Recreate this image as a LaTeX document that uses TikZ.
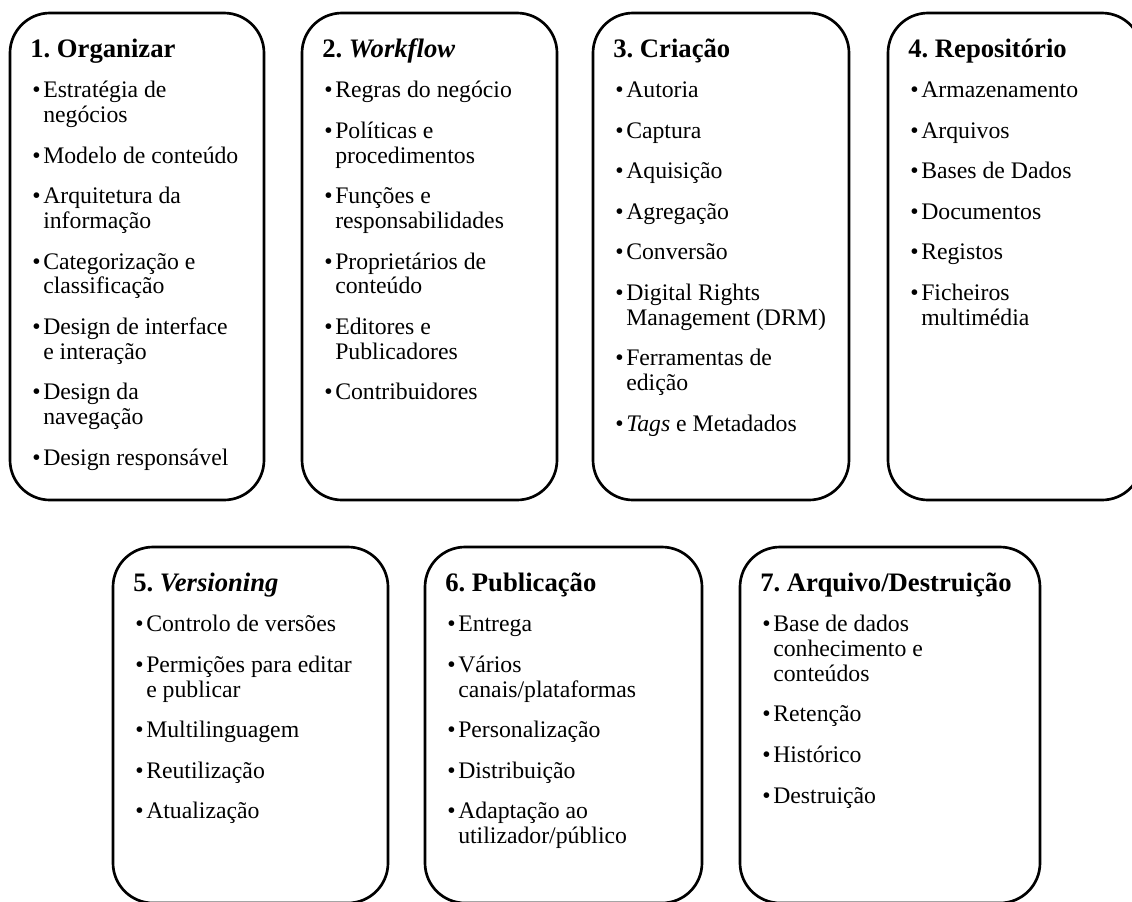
\documentclass[tikz,border=0pt]{standalone}
\usepackage{fontspec}
\setmainfont{Liberation Serif}

% word spaces of fixed width, no extra space after full stops
\newcommand\fixspaces{\frenchspacing\spaceskip=\fontdimen2\font\relax}
% one bulleted entry with a hanging indent for its continuation lines
\newcommand\bitem[1]{\par\hangindent=9.75pt\hangafter=1\noindent\makebox[9.75pt][l]{\hspace{1.5pt}•}#1\par}
% bold heading of a panel; the space between entries is set after it
\newcommand\btitle[1]{{\fontsize{20pt}{18.6pt}\selectfont\bfseries\fixspaces\noindent\rule{0pt}{15pt}#1\par}\setlength{\parskip}{11.8pt}}

\tikzset{
  panel/.style={draw, line width=2pt, rounded corners=30pt},
  paneltext/.style={anchor=north west, inner sep=0pt, text width=220pt, align=left,
    font=\fontsize{17.8pt}{18.6pt}\selectfont,
    execute at begin node={\fixspaces\rightskip=0pt plus 1fil\parfillskip=0pt plus 1fil\relax}}
}

\begin{document}
\begin{tikzpicture}[x=0.75pt, y=-0.75pt]
\useasboundingbox (0,0) rectangle (1132,901);

% upper row of panels
\draw[panel] (10,13) rectangle (264,500);
\draw[panel] (302,13) rectangle (557,500);
\draw[panel] (593,13) rectangle (849,500);
\draw[panel] (888,13) rectangle (1142,500);

% lower row of panels
\draw[panel] (113,547) rectangle (388,903);
\draw[panel] (425,547) rectangle (702,903);
\draw[panel] (740,547) rectangle (1040,903);

\node[paneltext] (t1) at (30,37) {%
  \btitle{1. Organizar}
  \bitem{Estratégia de\newline negócios}
  \bitem{Modelo de conteúdo}
  \bitem{Arquitetura da\newline informação}
  \bitem{Categorização e\newline classificação}
  \bitem{Design de interface\newline e interação}
  \bitem{Design da\newline navegação}
  \bitem{Design responsável}};

\node[paneltext] (t2) at (322,37) {%
  \btitle{2. \textit{Workflow}}
  \bitem{Regras do negócio}
  \bitem{Políticas e\newline procedimentos}
  \bitem{Funções e\newline responsabilidades}
  \bitem{Proprietários de\newline conteúdo}
  \bitem{Editores e\newline Publicadores}
  \bitem{Contribuidores}};

\node[paneltext] (t3) at (613,37) {%
  \btitle{3. Criação}
  \bitem{Autoria}
  \bitem{Captura}
  \bitem{Aquisição}
  \bitem{Agregação}
  \bitem{Conversão}
  \bitem{Digital Rights\newline Management (DRM)}
  \bitem{Ferramentas de\newline edição}
  \bitem{\textit{Tags} e Metadados}};

\node[paneltext] (t4) at (908,37) {%
  \btitle{4. Repositório}
  \bitem{Armazenamento}
  \bitem{Arquivos}
  \bitem{Bases de Dados}
  \bitem{Documentos}
  \bitem{Registos}
  \bitem{Ficheiros\newline multimédia}};

\node[paneltext] (t5) at (133,571) {%
  \btitle{5. \textit{Versioning}}
  \bitem{Controlo de versões}
  \bitem{Permições para editar\newline e publicar}
  \bitem{Multilinguagem}
  \bitem{Reutilização}
  \bitem{Atualização}};

\node[paneltext] (t6) at (445,571) {%
  \btitle{6. Publicação}
  \bitem{Entrega}
  \bitem{Vários\newline canais/plataformas}
  \bitem{Personalização}
  \bitem{Distribuição}
  \bitem{Adaptação ao\newline utilizador/público}};

\node[paneltext] (t7) at (760,571) {%
  \btitle{7. Arquivo/Destruição}
  \bitem{Base de dados\newline conhecimento e\newline conteúdos}
  \bitem{Retenção}
  \bitem{Histórico}
  \bitem{Destruição}};
\end{tikzpicture}
\end{document}
